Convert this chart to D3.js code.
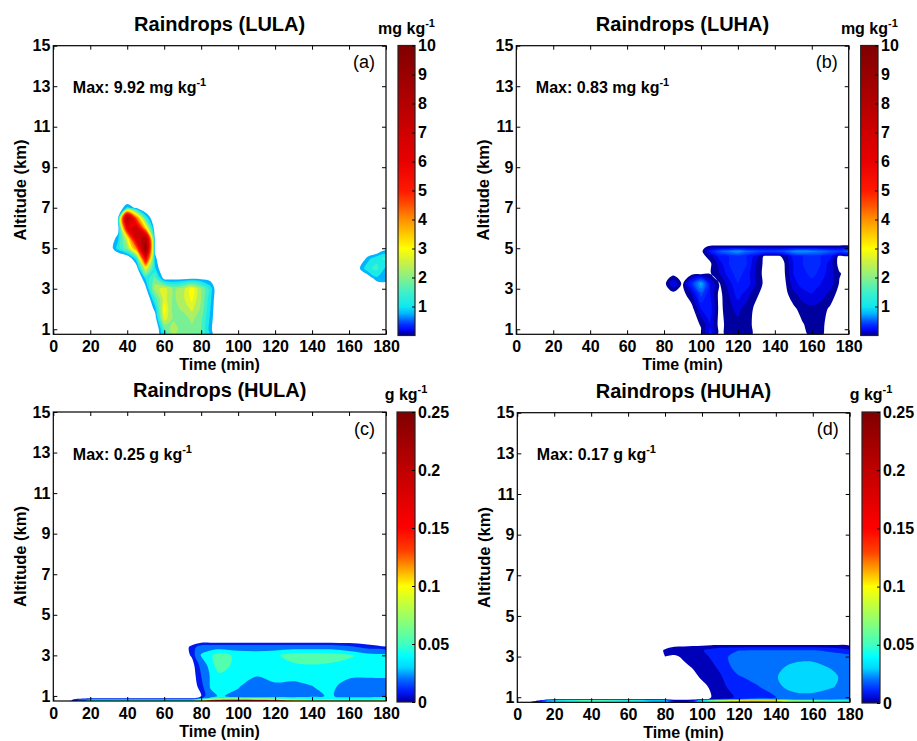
<!DOCTYPE html>
<html>
<head>
<meta charset="utf-8">
<script src="https://cdn.jsdelivr.net/npm/d3@7"></script>
<style>
  body { margin: 0; background: #fff; }
  svg text { font-family: "Liberation Sans", Arial, sans-serif; }
</style>
</head>
<body>
<div class="figure"></div>
<script>
// ---------- data (rows go bottom -> top, one value per time column) ----------

// (a) LULA, mg/kg
const lulaTimes = [25, 30, 35, 40, 45, 50, 55, 60, 65, 70, 75, 80, 85, 90, 160, 165, 170, 175, 180];
const lulaAltitudes = [0.75, 1, 1.5, 2, 2.5, 3, 3.5, 4, 4.5, 5, 5.5, 6, 6.5, 7, 7.5];
const lulaValues = [
  [0, 0, 0, 0, 0, 0, 0, 1.5, 2.4, 2.0, 2.1, 1.9, 1.0, 0, 0, 0, 0, 0, 0],
  [0, 0, 0, 0, 0, 0, 0, 1.8, 2.6, 2.0, 2.2, 1.9, 0.9, 0, 0, 0, 0, 0, 0],
  [0, 0, 0, 0, 0, 0, 0.4, 2.9, 2.2, 2.0, 2.4, 2.0, 1.0, 0, 0, 0, 0, 0, 0],
  [0, 0, 0, 0, 0, 0, 0.9, 3.2, 2.1, 2.4, 2.8, 2.2, 1.1, 0, 0, 0, 0, 0, 0],
  [0, 0, 0, 0, 0, 0, 1.6, 2.9, 2.2, 2.6, 3.1, 2.3, 1.2, 0, 0, 0, 0, 0, 0],
  [0, 0, 0, 0, 0, 0.6, 2.5, 2.9, 2.2, 2.5, 3.2, 2.3, 1.3, 0, 0, 0, 0, 0, 0],
  [0, 0, 0, 0, 0, 1.2, 2.0, 0.6, 0.6, 0.65, 0.7, 0.65, 0.55, 0, 0, 0, 0.3, 1.0, 1.1],
  [0, 0, 0, 0, 0.4, 3.0, 1.2, 0.1, 0, 0, 0, 0, 0, 0, 0, 0.6, 1.4, 1.6, 1.0],
  [0, 0, 0, 0.2, 1.4, 6.5, 0.9, 0, 0, 0, 0, 0, 0, 0, 0, 0, 0.9, 1.4, 1.6],
  [0, 0.3, 1.3, 2.2, 4.5, 9.8, 0.6, 0, 0, 0, 0, 0, 0, 0, 0, 0, 0, 0, 0.5],
  [0, 0.1, 1.0, 3.0, 7.5, 8.5, 0.5, 0, 0, 0, 0, 0, 0, 0, 0, 0, 0, 0, 0],
  [0, 0, 0.4, 6.5, 7.5, 3.5, 0.3, 0, 0, 0, 0, 0, 0, 0, 0, 0, 0, 0, 0],
  [0, 0, 0.7, 8.8, 4.5, 1.5, 0, 0, 0, 0, 0, 0, 0, 0, 0, 0, 0, 0, 0],
  [0, 0, 0.2, 1.2, 0.6, 0, 0, 0, 0, 0, 0, 0, 0, 0, 0, 0, 0, 0, 0],
  [0, 0, 0, 0, 0, 0, 0, 0, 0, 0, 0, 0, 0, 0, 0, 0, 0, 0, 0]
];
const lulaLevels = [0.75, 1.1, 1.5, 1.9, 2.3, 2.7, 3, 3.5, 4, 4.5, 5, 6, 7, 8, 9];

// (b) LUHA, mg/kg
const luhaTimes = [75, 80, 85, 90, 95, 100, 105, 110, 115, 120, 125, 130, 135, 140, 145, 150, 155, 160, 165, 170, 175, 180];
const luhaAltitudes = [0.75, 1.25, 2, 2.75, 3.25, 3.75, 4.25, 4.6, 4.85, 5.05, 5.2];
const luhaValues = [
  [0, 0, 0, 0, 0, 0.03, 0.3, 0, 0.1, 0.12, 0.12, 0, 0, 0, 0, 0, 0, 0.1, 0.07, 0, 0, 0],
  [0, 0, 0, 0, 0, 0.06, 0.25, 0, 0.1, 0.12, 0.1, 0, 0, 0, 0, 0, 0.04, 0.1, 0.08, 0, 0, 0],
  [0, 0, 0, 0, 0, 0.25, 0.3, 0.01, 0.12, 0.18, 0.1, 0.02, 0, 0, 0, 0.02, 0.1, 0.12, 0.1, 0.03, 0, 0],
  [0, 0, 0, 0, 0.15, 0.5, 0.25, 0.01, 0.15, 0.3, 0.2, 0.07, 0, 0, 0, 0.12, 0.2, 0.25, 0.2, 0.12, 0, 0],
  [0, 0, 0.25, 0.02, 0.4, 0.8, 0.25, 0.04, 0.2, 0.35, 0.3, 0.15, 0, 0, 0.01, 0.2, 0.3, 0.3, 0.25, 0.2, 0.04, 0],
  [0, 0, 0, 0, 0, 0, 0.04, 0.15, 0.3, 0.4, 0.3, 0.12, 0, 0, 0.03, 0.25, 0.3, 0.4, 0.3, 0.2, 0.06, 0],
  [0, 0, 0, 0, 0, 0, 0.03, 0.2, 0.35, 0.45, 0.35, 0.15, 0, 0, 0.04, 0.25, 0.35, 0.45, 0.35, 0.2, 0, 0],
  [0, 0, 0, 0, 0, 0, 0.1, 0.3, 0.35, 0.4, 0.35, 0.2, 0, 0, 0.08, 0.3, 0.35, 0.4, 0.35, 0.3, 0, 0],
  [0, 0, 0, 0, 0, 0, 0.3, 0.55, 0.65, 0.75, 0.6, 0.55, 0.5, 0.5, 0.55, 0.7, 0.75, 0.7, 0.65, 0.55, 0.5, 0.6],
  [0, 0, 0, 0, 0, 0, 0.1, 0.12, 0.12, 0.12, 0.12, 0.12, 0.12, 0.12, 0.12, 0.12, 0.12, 0.12, 0.12, 0.12, 0.12, 0.12],
  [0, 0, 0, 0, 0, 0, 0, 0, 0, 0, 0, 0, 0, 0, 0, 0, 0, 0, 0, 0, 0, 0]
];
const luhaLevels = [0.05, 0.15, 0.25, 0.35, 0.45, 0.55, 0.65, 0.75];

// (c) HULA, g/kg
const hulaTimes = [0, 10, 20, 30, 40, 50, 60, 70, 75, 80, 85, 90, 100, 110, 120, 130, 140, 150, 160, 170, 180];
const hulaAltitudes = [0.75, 0.82, 0.9, 1.0, 1.5, 2.0, 2.5, 3.0, 3.4, 3.7];
const hulaValues = [
  [0, 0.009, 0.05, 0.055, 0.06, 0.06, 0.055, 0.05, 0.05, 0.1, 0.18, 0.22, 0.24, 0.22, 0.2, 0.12, 0.1, 0.09, 0.085, 0.085, 0.09],
  [0, 0.006, 0.04, 0.045, 0.045, 0.045, 0.045, 0.042, 0.042, 0.07, 0.1, 0.12, 0.13, 0.12, 0.1, 0.07, 0.06, 0.06, 0.055, 0.055, 0.06],
  [0, 0, 0, 0, 0, 0, 0, 0, 0, 0.02, 0.042, 0.045, 0.045, 0.045, 0.045, 0.045, 0.045, 0.045, 0.045, 0.045, 0.045],
  [0, 0, 0, 0, 0, 0, 0, 0, 0, 0.008, 0.035, 0.042, 0.035, 0.03, 0.034, 0.032, 0.036, 0.042, 0.032, 0.03, 0.032],
  [0, 0, 0, 0, 0, 0, 0, 0, 0, 0.014, 0.042, 0.045, 0.042, 0.03, 0.039, 0.036, 0.04, 0.044, 0.033, 0.032, 0.033],
  [0, 0, 0, 0, 0, 0, 0, 0, 0, 0.02, 0.042, 0.052, 0.045, 0.041, 0.042, 0.045, 0.046, 0.045, 0.043, 0.042, 0.042],
  [0, 0, 0, 0, 0, 0, 0, 0, 0.002, 0.025, 0.048, 0.064, 0.048, 0.046, 0.047, 0.052, 0.054, 0.052, 0.048, 0.046, 0.045],
  [0, 0, 0, 0, 0, 0, 0, 0, 0.01, 0.042, 0.052, 0.063, 0.05, 0.048, 0.052, 0.063, 0.065, 0.063, 0.058, 0.048, 0.045],
  [0, 0, 0, 0, 0, 0, 0, 0, 0.012, 0.03, 0.032, 0.032, 0.032, 0.032, 0.032, 0.032, 0.032, 0.032, 0.025, 0.015, 0.009],
  [0, 0, 0, 0, 0, 0, 0, 0, 0, 0, 0, 0, 0, 0, 0, 0, 0, 0, 0, 0, 0]
];
const hulaLevels = [0.008, 0.02, 0.04, 0.055, 0.07, 0.085, 0.1, 0.12, 0.15, 0.2];

// (d) HUHA, g/kg
const huhaTimes = [0, 10, 20, 30, 40, 50, 60, 70, 75, 80, 85, 90, 95, 100, 105, 110, 120, 130, 140, 150, 160, 170, 180];
const huhaAltitudes = [0.75, 0.82, 0.9, 1.0, 1.5, 2.0, 2.5, 3.0, 3.3, 3.6];
const huhaValues = [
  [0, 0.003, 0.06, 0.08, 0.09, 0.085, 0.07, 0.055, 0.05, 0.045, 0.01, 0.008, 0.015, 0.06, 0.1, 0.13, 0.15, 0.16, 0.14, 0.1, 0.09, 0.075, 0.07],
  [0, 0.002, 0.05, 0.065, 0.075, 0.07, 0.06, 0.05, 0.045, 0.04, 0.008, 0.006, 0.012, 0.05, 0.08, 0.1, 0.12, 0.13, 0.12, 0.09, 0.08, 0.065, 0.06],
  [0, 0, 0, 0, 0, 0, 0, 0, 0, 0, 0, 0, 0, 0, 0.004, 0.012, 0.02, 0.025, 0.025, 0.025, 0.025, 0.025, 0.025],
  [0, 0, 0, 0, 0, 0, 0, 0, 0, 0, 0, 0, 0, 0, 0.002, 0.005, 0.012, 0.016, 0.02, 0.024, 0.025, 0.023, 0.022],
  [0, 0, 0, 0, 0, 0, 0, 0, 0, 0, 0, 0, 0, 0, 0.003, 0.008, 0.014, 0.019, 0.026, 0.036, 0.037, 0.031, 0.025],
  [0, 0, 0, 0, 0, 0, 0, 0, 0, 0, 0, 0, 0, 0.003, 0.006, 0.009, 0.019, 0.024, 0.029, 0.038, 0.04, 0.033, 0.025],
  [0, 0, 0, 0, 0, 0, 0, 0, 0, 0, 0, 0.0005, 0.0025, 0.005, 0.008, 0.012, 0.026, 0.027, 0.028, 0.032, 0.033, 0.029, 0.026],
  [0, 0, 0, 0, 0, 0, 0, 0, 0, 0.002, 0.001, 0.003, 0.005, 0.007, 0.011, 0.017, 0.024, 0.026, 0.026, 0.027, 0.027, 0.025, 0.024],
  [0, 0, 0, 0, 0, 0, 0, 0, 0, 0.0025, 0.005, 0.006, 0.007, 0.009, 0.014, 0.018, 0.02, 0.021, 0.021, 0.021, 0.021, 0.018, 0.012],
  [0, 0, 0, 0, 0, 0, 0, 0, 0, 0, 0, 0, 0, 0, 0, 0, 0, 0, 0, 0, 0, 0, 0]
];
const huhaLevels = [0.002, 0.01, 0.02, 0.03, 0.05, 0.065, 0.08, 0.1, 0.12, 0.15];

const titles = ["Raindrops (LULA)", "Raindrops (LUHA)", "Raindrops (HULA)", "Raindrops (HUHA)"];
const tags = ["(a)", "(b)", "(c)", "(d)"];
const maxima = ["9.92", "0.83", "0.25", "0.17"];
const units = ["mg kg", "mg kg", "g kg", "g kg"];
const timeTicks = [0, 20, 40, 60, 80, 100, 120, 140, 160, 180];
const altitudeTicks = [1, 3, 5, 7, 9, 11, 13, 15];
const mgTicks = [1, 2, 3, 4, 5, 6, 7, 8, 9, 10];
const gTicks = [0, 0.05, 0.1, 0.15, 0.2, 0.25];

// colour ramps (value, colour)
const mgRamp = [[0, "#000080"], [0.12, "#0000c8"], [0.2, "#0008ff"], [0.35, "#0028ff"], [0.5, "#0058ff"],
  [0.75, "#00b4ff"], [1, "#10e8f0"], [1.5, "#40f0c8"], [2, "#88f088"], [2.5, "#c8f048"], [3, "#ffff00"],
  [3.5, "#ffc800"], [4, "#ff9000"], [4.5, "#ff5000"], [5, "#ff1800"], [6, "#e80000"], [7, "#d00000"],
  [8, "#b40000"], [9, "#9a0000"], [10, "#800000"]];
const gRamp = [[0, "#000080"], [0.002, "#0000b8"], [0.01, "#0020ff"], [0.02, "#0070ff"], [0.03, "#00d8ff"],
  [0.04, "#00ffff"], [0.05, "#40ffc0"], [0.075, "#a0ff60"], [0.1, "#ffff00"], [0.115, "#ffa000"],
  [0.13, "#ff4000"], [0.15, "#ff0000"], [0.2, "#c00000"], [0.25, "#800000"]];

// ---------- layout ----------
const panels = [
  {times: lulaTimes, alts: lulaAltitudes, values: lulaValues, levels: lulaLevels, ramp: mgRamp, cbMax: 10, cbTicks: mgTicks,
   plot: {l: 53.3, r: 386, t: 45.7, b: 334.3}, cbar: {l: 398, r: 415, t: 45.5, b: 335.5}},
  {times: luhaTimes, alts: luhaAltitudes, values: luhaValues, levels: luhaLevels, ramp: mgRamp, cbMax: 10, cbTicks: mgTicks,
   plot: {l: 516.3, r: 848.7, t: 45.7, b: 334.3}, cbar: {l: 860.7, r: 878, t: 45.5, b: 335.5}},
  {times: hulaTimes, alts: hulaAltitudes, values: hulaValues, levels: hulaLevels, ramp: gRamp, cbMax: 0.25, cbTicks: gTicks,
   plot: {l: 53.3, r: 386, t: 412, b: 701}, cbar: {l: 397, r: 415, t: 412, b: 702}},
  {times: huhaTimes, alts: huhaAltitudes, values: huhaValues, levels: huhaLevels, ramp: gRamp, cbMax: 0.25, cbTicks: gTicks,
   plot: {l: 517.3, r: 849.7, t: 412.7, b: 702.3}, cbar: {l: 862, r: 880, t: 412, b: 703}}
];

const svg = d3.select(".figure")
  .append("svg")
    .attr("width", 917)
    .attr("height", 741);

panels.forEach((p, i) => drawPanel(p, i));

function drawPanel(p, i) {
  const x = d3.scaleLinear().domain([0, 180]).range([p.plot.l, p.plot.r]);
  const y = d3.scaleLinear().domain([0.75, 15]).range([p.plot.b, p.plot.t]);
  const color = d3.scaleLinear()
    .domain(p.ramp.map(d => d[0]))
    .range(p.ramp.map(d => d[1]))
    .clamp(true);

  const g = svg.append("g");

  // clip to the axes box
  const clipId = "clip" + i;
  svg.append("clipPath").attr("id", clipId)
    .append("rect")
      .attr("x", p.plot.l).attr("y", p.plot.t)
      .attr("width", p.plot.r - p.plot.l).attr("height", p.plot.b - p.plot.t);

  // filled contours from the grid, grid index -> time / altitude
  const n = p.times.length, m = p.alts.length;
  const contours = d3.contours().size([n, m]).thresholds(p.levels)(p.values.flat());
  const colIndex = d3.scaleLinear().domain(d3.range(n)).range(p.times);
  const rowIndex = d3.scaleLinear().domain(d3.range(m)).range(p.alts);
  const ringLine = d3.line().curve(d3.curveCatmullRomClosed.alpha(0.5));

  // rounded outlines, like the smooth contourf edges of the original
  function contourPath(geom) {
    return geom.coordinates.map(poly => poly.map(ring => {
      const pts = ring.slice(0, -1).map(([px, py]) => [x(colIndex(px - 0.5)), y(rowIndex(py - 0.5))]);
      return ringLine(pts);
    }).join("")).join("");
  }

  g.append("g")
    .attr("clip-path", `url(#${clipId})`)
    .selectAll("path")
    .data(contours)
    .join("path")
      .attr("d", contourPath)
      .attr("fill-rule", "evenodd")
      .attr("fill", d => color(d.value));

  // axes, ticks inside on all four sides
  const font = ax => ax.style("font-size", "16px").style("font-weight", "bold")
    .call(s => s.select(".domain").remove());

  g.append("g")
    .attr("transform", `translate(0,${p.plot.b})`)
    .call(d3.axisBottom(x).tickValues(timeTicks).tickSizeInner(-4).tickSizeOuter(0).tickPadding(6.5))
    .call(font);
  g.append("g")
    .attr("transform", `translate(0,${p.plot.t})`)
    .call(d3.axisTop(x).tickValues(timeTicks).tickSizeInner(-4).tickSizeOuter(0).tickFormat(""))
    .call(font);
  g.append("g")
    .attr("transform", `translate(${p.plot.l},0)`)
    .call(d3.axisLeft(y).tickValues(altitudeTicks).tickSizeInner(-4).tickSizeOuter(0).tickPadding(3))
    .call(font);
  g.append("g")
    .attr("transform", `translate(${p.plot.r},0)`)
    .call(d3.axisRight(y).tickValues(altitudeTicks).tickSizeInner(-4).tickSizeOuter(0).tickFormat(""))
    .call(font);
  g.selectAll(".tick text").attr("fill", "#000");
  g.selectAll(".tick line").attr("stroke", "#000");

  g.append("rect")
    .attr("x", p.plot.l).attr("y", p.plot.t)
    .attr("width", p.plot.r - p.plot.l).attr("height", p.plot.b - p.plot.t)
    .attr("fill", "none").attr("stroke", "#000").attr("stroke-width", 1.2);

  // colorbar
  const gradId = "grad" + i;
  const grad = svg.append("defs").append("linearGradient")
    .attr("id", gradId).attr("x1", 0).attr("y1", 1).attr("x2", 0).attr("y2", 0);
  grad.selectAll("stop")
    .data(p.ramp)
    .join("stop")
      .attr("offset", d => d[0] / p.cbMax)
      .attr("stop-color", d => d[1]);

  g.append("rect")
    .attr("x", p.cbar.l).attr("y", p.cbar.t)
    .attr("width", p.cbar.r - p.cbar.l).attr("height", p.cbar.b - p.cbar.t)
    .attr("fill", `url(#${gradId})`)
    .attr("stroke", "#222").attr("stroke-width", 1.2);

  const cb = d3.scaleLinear().domain([0, p.cbMax]).range([p.cbar.b, p.cbar.t]);
  g.append("g")
    .attr("transform", `translate(${p.cbar.r},0)`)
    .call(d3.axisRight(cb).tickValues(p.cbTicks).tickSizeInner(-3).tickSizeOuter(0).tickPadding(3)
      .tickFormat(d => String(d)))
    .call(font)
    .call(s => s.selectAll("text").attr("fill", "#000"))
    .call(s => s.selectAll("line").attr("stroke", "#000"));

  // texts
  g.append("text")
    .attr("x", (p.plot.l + p.plot.r) / 2)
    .attr("y", p.plot.t - 15)
    .attr("text-anchor", "middle")
    .style("font-size", "20px").style("font-weight", "bold")
    .text(titles[i]);

  const unit = g.append("text")
    .attr("x", (p.cbar.l + p.cbar.r) / 2)
    .attr("y", p.cbar.t - 12)
    .attr("text-anchor", "middle")
    .style("font-size", "16px").style("font-weight", "bold");
  unit.append("tspan").text(units[i]);
  unit.append("tspan").attr("dy", -7).style("font-size", "11px").text("-1");

  const maxText = g.append("text")
    .attr("x", p.plot.l + 19.5)
    .attr("y", p.plot.t + 47.5)
    .style("font-size", "16px").style("font-weight", "bold");
  maxText.append("tspan").text(`Max: ${maxima[i]} ${units[i]}`);
  maxText.append("tspan").attr("dy", -7).style("font-size", "11px").text("-1");

  g.append("text")
    .attr("x", p.plot.r - 11)
    .attr("y", p.plot.t + 22.5)
    .attr("text-anchor", "end")
    .style("font-size", "18px")
    .text(tags[i]);

  g.append("text")
    .attr("transform", `translate(${p.plot.l - 27},${(p.plot.t + p.plot.b) / 2}) rotate(-90)`)
    .attr("text-anchor", "middle")
    .style("font-size", "16.5px").style("font-weight", "bold")
    .text("Altitude (km)");

  g.append("text")
    .attr("x", (p.plot.l + p.plot.r) / 2)
    .attr("y", p.plot.b + 36)
    .attr("text-anchor", "middle")
    .style("font-size", "16px").style("font-weight", "bold")
    .text("Time (min)");
}
</script>
</body>
</html>
